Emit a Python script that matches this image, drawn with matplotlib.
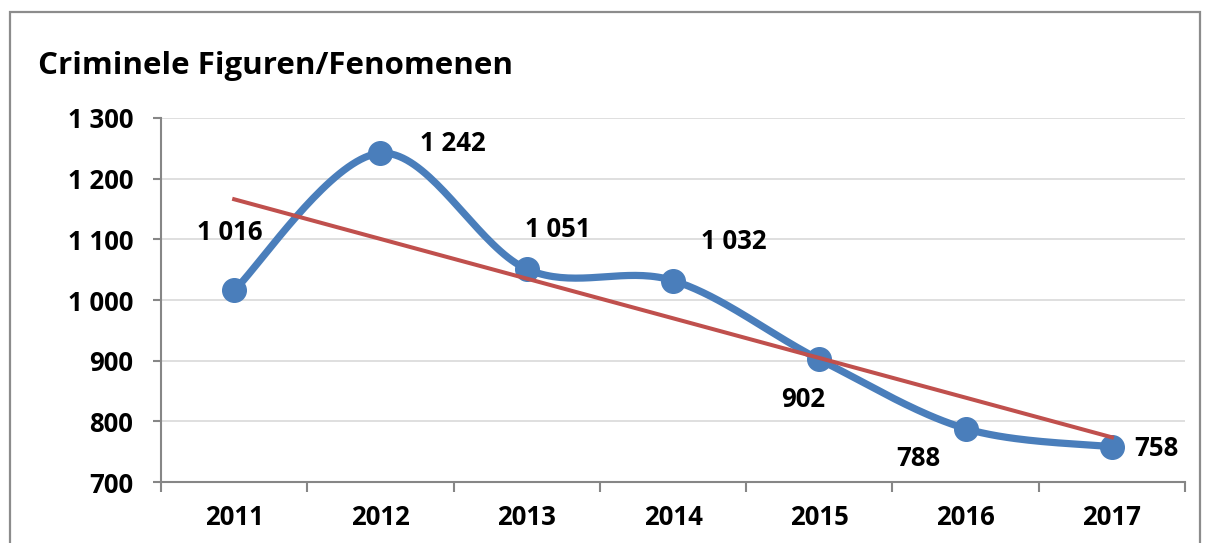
import numpy as np
import matplotlib.pyplot as plt
from matplotlib.patches import Rectangle

# data
years = ["2011", "2012", "2013", "2014", "2015", "2016", "2017"]
values = [1016, 1242, 1051, 1032, 902, 788, 758]
yticks = [700, 800, 900, 1000, 1100, 1200, 1300]

# label offsets in pixels (dx, dy), purely placement
label_offsets = [(-4, 58), (72, 10), (31, 40), (61, 39), (-16, -40), (-47, -30), (44, -2)]

blue = "#4A7EBB"
red = "#C0504D"
axis_grey = "#868686"
font = ["Open Sans", "DejaVu Sans"]

plt.rcParams["font.family"] = font
plt.rcParams["font.weight"] = "bold"


def fmt(v):
    return f"{v:,}".replace(",", " ")


def catmull_rom(x, y, n=40):
    # smoothed line like Excel's "smoothed line" option
    x = np.asarray(x, float)
    y = np.asarray(y, float)
    px = np.concatenate([[x[0]], x, [x[-1]]])
    py = np.concatenate([[y[0]], y, [y[-1]]])
    xs, ys = [], []
    t = np.linspace(0, 1, n)
    for i in range(1, len(px) - 2):
        p0, p1, p2, p3 = [np.array([px[j], py[j]]) for j in (i - 1, i, i + 1, i + 2)]
        c1 = p1 + (p2 - p0) / 6
        c2 = p2 - (p3 - p1) / 6
        pts = ((1 - t) ** 3)[:, None] * p1 + (3 * (1 - t) ** 2 * t)[:, None] * c1 \
            + (3 * (1 - t) * t ** 2)[:, None] * c2 + (t ** 3)[:, None] * p2
        xs.extend(pts[:, 0])
        ys.extend(pts[:, 1])
    return np.array(xs), np.array(ys)


fig = plt.figure(figsize=(12.08, 5.43), dpi=100)
ax = fig.add_axes([0.1333, 0.1123, 0.8477, 0.6704])

x = np.arange(1, len(years) + 1)
sx, sy = catmull_rom(x, values)
ax.plot(sx, sy, color=blue, lw=5.2, solid_capstyle="round", zorder=3)
ax.plot(x, values, "o", color=blue, ms=17, zorder=4)

# linear trend line
k, b = np.polyfit(x, values, 1)
ax.plot([x[0], x[-1]], [k * x[0] + b, k * x[-1] + b], color=red, lw=2.9, zorder=5)

for xi, v, (dx, dy) in zip(x, values, label_offsets):
    ax.annotate(fmt(v), (xi, v), xytext=(dx, dy), textcoords="offset pixels",
                ha="center", va="center", fontsize=18.5, fontweight="bold", color="black")

ax.set_xlim(0.5, len(years) + 0.5)
ax.set_ylim(yticks[0], yticks[-1])
ax.set_yticks(yticks)
ax.set_yticklabels([fmt(t) for t in yticks])
ax.set_xticks(np.arange(0.5, len(years) + 1, 1))
ax.set_xticklabels([])
ax.set_xticks(x, minor=True)
ax.set_xticklabels(years, minor=True)
ax.tick_params(axis="x", which="major", length=7, width=1.5, color=axis_grey)
ax.tick_params(axis="x", which="minor", length=0, pad=16, labelsize=18.5)
ax.tick_params(axis="y", length=6, width=1.5, color=axis_grey, pad=14, labelsize=18.5)
for lab in ax.get_xticklabels(minor=True) + ax.get_yticklabels():
    lab.set_fontweight("bold")

ax.grid(axis="y", color="#D9D9D9", lw=1.2)
ax.set_axisbelow(True)
for s in ["top", "right"]:
    ax.spines[s].set_visible(False)
for s in ["left", "bottom"]:
    ax.spines[s].set_color(axis_grey)
    ax.spines[s].set_linewidth(1.5)

fig.text(38 / 1208, 1 - 66 / 543, "Criminele Figuren/Fenomenen", fontsize=22.5,
         fontweight="bold", va="center", ha="left")

# chart frame
fig.patches.append(Rectangle((10 / 1208, -0.1), 1190 / 1208, 1.1 - 12 / 543,
                             transform=fig.transFigure, fill=False,
                             edgecolor="#8C8C8C", lw=1.6))

fig.savefig("out.png", dpi=100)
